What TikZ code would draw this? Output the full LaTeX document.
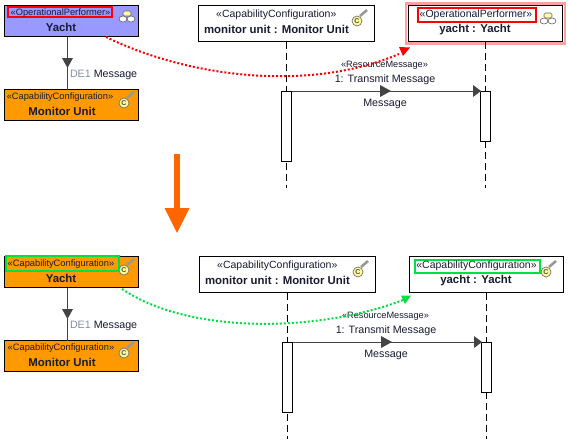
\documentclass[tikz,border=0pt]{standalone}
\usepackage{fontspec}
\setmainfont{Liberation Sans}
\usetikzlibrary{arrows.meta,calc}
\definecolor{lav}{HTML}{9999FF}
\definecolor{org}{HTML}{FF9900}
\definecolor{bigorg}{HTML}{FF6600}
\definecolor{grn}{HTML}{00E040}
\definecolor{halo}{HTML}{FFA0A0}
\definecolor{dk}{HTML}{444444}
\definecolor{txt}{HTML}{1A1A33}
\definecolor{delbl}{HTML}{8890A0}
\tikzset{x=1pt,y=-1pt,every node/.style={outer sep=0pt},
 boxn/.style={draw=black,line width=1.1pt,inner sep=0pt,anchor=north west},
 stereo/.style={font=\fontsize{9.3}{10}\selectfont,inner sep=0pt,text=txt},
 stereob/.style={font=\fontsize{10.5}{12}\selectfont,inner sep=0pt,text=txt},
 stereom/.style={font=\fontsize{9.2}{10}\selectfont,inner sep=0pt,text=txt},
 namet/.style={font=\fontsize{11.4}{13}\selectfont\bfseries,inner sep=0pt,text=txt},
 msg/.style={font=\fontsize{10.7}{12}\selectfont,inner sep=0pt,text=txt},
 lifeln/.style={draw=black,line width=1pt,dash pattern=on 7pt off 4pt},
 actv/.style={draw=black,line width=1pt,fill=white,inner sep=0pt,anchor=north west},
 seqline/.style={draw=dk,line width=1pt},
 tri/.style={fill=dk,draw=none},
 redmark/.style={draw=red,line width=2pt,inner sep=0pt,anchor=north west},
 grnmark/.style={draw=grn,line width=2pt,inner sep=0pt,anchor=north west},
 dotcurve/.style={line width=2pt,dash pattern=on 2pt off 2pt},
}
\newcommand{\perfIcon}[2]{%
 \begin{scope}[shift={(#1,#2)},line width=.6pt]
  \draw[fill=yellow!35,draw=black!60,rounded corners=1.5pt] (-4,-6) rectangle (4,-1);
  \draw[fill=white,draw=black!60] (-4,2) circle[x radius=4,y radius=3];
  \draw[fill=white,draw=black!60] (4,2) circle[x radius=4,y radius=3];
 \end{scope}}
\newcommand{\capIcon}[2]{%
 \begin{scope}[shift={(#1,#2)}]
  \draw[line width=2.6pt,draw=black!40] (3,-5) -- (10,-11);
  \draw[fill=yellow!40,draw=black!55,line width=.7pt] (0,0) circle[radius=5];
  \node[inner sep=0pt,font=\fontsize{7}{7}\selectfont\bfseries,text=black!70] (ic#1x#2) at (0,0) {C};
 \end{scope}}
\begin{document}
\begin{tikzpicture}
\useasboundingbox (0,0) rectangle (568,442);
\fill[white] (0,0) rectangle (568,442);

% ---------- upper ----------
\node[boxn,fill=lav,minimum width=134pt,minimum height=31pt] (ua) at (4.5,5.5) {};
\node[boxn,fill=org,minimum width=134pt,minimum height=31pt] (ub) at (4.5,89.5) {};
\coordinate (uat) at (67.5,36.5);
\coordinate (ubt) at (67.5,89.5);
\draw[seqline] (uat) -- (ubt);
\fill[tri] (62,58) -- (73,58) -- (67.5,68) -- cycle;
\node[msg,anchor=west] (ude) at (70,74.5) {\textcolor{delbl}{DE1} Message};

\node[redmark,minimum width=104pt,minimum height=10pt] (ur1) at (8,7) {};
\node[stereo] (us1) at (60.5,12.8) {«OperationalPerformer»};
\node[namet] (un1) at (61,27.5) {Yacht};
\perfIcon{127}{17}
\node[stereo] (us2) at (60,97.5) {«CapabilityConfiguration»};
\node[namet] (un2) at (62,111.5) {Monitor Unit};
\capIcon{124}{103}

\node[boxn,fill=white,minimum width=176pt,minimum height=36pt] (uc) at (198.5,5.5) {};
\node[stereob] (us3) at (276.3,15) {«CapabilityConfiguration»};
\node[namet] (un3) at (276.5,29.5) {monitor unit : Monitor Unit};
\capIcon{357}{21}
\coordinate (ucend) at (286.5,188);
\path[lifeln] (286.5,41.5) -- (ucend);
\node[actv,minimum width=10pt,minimum height=70pt] (ua1) at (281.5,91.5) {};

\node[draw=halo,line width=2.6pt,fill=white,minimum width=159pt,minimum height=40pt,inner sep=0pt,anchor=north west] (uh) at (406,3.5) {};
\node[boxn,fill=white,minimum width=153.5pt,minimum height=36pt] (ud) at (408.7,5.3) {};
\node[redmark,minimum width=118pt,minimum height=14pt] (ur2) at (418,8) {};
\node[stereob] (us4) at (476,15) {«OperationalPerformer»};
\node[namet] (un4) at (475,29.5) {yacht : Yacht};
\perfIcon{548}{19}
\coordinate (udend) at (485.5,188);
\path[lifeln] (485.5,41.5) -- (udend);
\node[actv,minimum width=10pt,minimum height=50pt] (ua2) at (480.5,91.5) {};

\draw[seqline] (ua1.north east) -- (ua2.north west);
\fill[tri] (380,85) -- (391,91) -- (380,97) -- cycle;
\fill[tri] (473,85) -- (481,91) -- (473,97) -- cycle;
\node[stereom] (um1) at (384.5,65.5) {«ResourceMessage»};
\node[msg] (um2) at (385,79.5) {1: Transmit Message};
\node[msg] (um3) at (385,103.5) {Message};

\coordinate (rs) at (106,37);
\coordinate (re) at (399,54);
\draw[red,dotcurve] (rs) .. controls (190,78) and (310,92) .. (re);
\fill[red] (399,47) -- (410,47.5) -- (403,56) -- cycle;

% ---------- big arrow ----------
\coordinate (ba1) at (177,154);
\coordinate (ba2) at (177,233);
\draw[bigorg,line width=6pt] (ba1) -- (177,210);
\fill[bigorg] (164.5,208) -- (189.5,208) -- (ba2) -- cycle;

% ---------- lower ----------
\node[boxn,fill=org,minimum width=134pt,minimum height=31pt] (la) at (4.5,256.5) {};
\node[boxn,fill=org,minimum width=134pt,minimum height=31pt] (lb) at (4.5,340.5) {};
\coordinate (lat) at (67.5,287.5);
\coordinate (lbt) at (67.5,340.5);
\draw[seqline] (lat) -- (lbt);
\fill[tri] (62,309) -- (73,309) -- (67.5,319) -- cycle;
\node[msg,anchor=west] (lde) at (70,325.5) {\textcolor{delbl}{DE1} Message};

\node[grnmark,minimum width=113pt,minimum height=15pt] (lr1) at (6,256) {};
\node[stereo] (ls1) at (61,264) {«CapabilityConfiguration»};
\node[namet] (ln1) at (61,278.8) {Yacht};
\capIcon{124}{270}
\node[stereo] (ls2) at (61,348.5) {«CapabilityConfiguration»};
\node[namet] (ln2) at (62,362.5) {Monitor Unit};
\capIcon{124}{353}

\node[boxn,fill=white,minimum width=176pt,minimum height=36pt] (lc) at (199.5,256.5) {};
\node[stereob] (ls3) at (277.3,266) {«CapabilityConfiguration»};
\node[namet] (ln3) at (277.5,280.5) {monitor unit : Monitor Unit};
\capIcon{358}{272}
\coordinate (lcend) at (287.5,439);
\path[lifeln] (287.5,292.5) -- (lcend);
\node[actv,minimum width=10pt,minimum height=70pt] (la1) at (282.5,342.5) {};

\node[boxn,fill=white,minimum width=154pt,minimum height=36pt] (ld) at (409.7,256.5) {};
\node[grnmark,minimum width=125pt,minimum height=13pt] (lr2) at (415,260) {};
\node[stereob] (ls4) at (476.5,266) {«CapabilityConfiguration»};
\node[namet] (ln4) at (476,280.5) {yacht : Yacht};
\capIcon{546}{272}
\coordinate (ldend) at (486.5,439);
\path[lifeln] (486.5,292.5) -- (ldend);
\node[actv,minimum width=10pt,minimum height=50pt] (la2) at (481.5,342.5) {};

\draw[seqline] (la1.north east) -- (la2.north west);
\fill[tri] (381,336) -- (392,342) -- (381,348) -- cycle;
\fill[tri] (474,336) -- (482,342) -- (474,348) -- cycle;
\node[stereom] (lm1) at (385.5,316.5) {«ResourceMessage»};
\node[msg] (lm2) at (386,330.5) {1: Transmit Message};
\node[msg] (lm3) at (386,354.5) {Message};

\coordinate (gs) at (122,289);
\coordinate (ge) at (403,300);
\draw[grn,dotcurve] (gs) .. controls (190,335) and (320,332) .. (ge);
\fill[grn] (401,295.5) -- (411,295.5) -- (405,304) -- cycle;
\end{tikzpicture}
\end{document}
